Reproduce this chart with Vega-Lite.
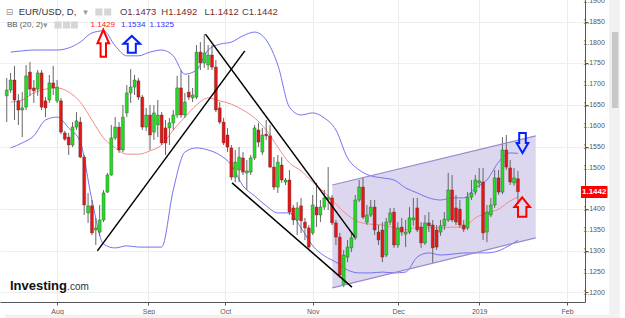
{
"$schema": "https://vega.github.io/schema/vega-lite/v6.json",
"width": 585, "height": 302, "padding": {"left": 0, "top": 0, "right": 40, "bottom": 16}, "autosize": {"type": "none"},
"background": "white",
"config": {"view": {"stroke": null}, "axis": {"labelOverlap": false, "labelBound": false}},
"datasets": {
"candles": [
{"i":-13,"o":1.1672,"h":1.1715,"l":1.1609,"c":1.1686},
{"i":-12,"o":1.1686,"h":1.1727,"l":1.1679,"c":1.1710},
{"i":-11,"o":1.1710,"h":1.1744,"l":1.1614,"c":1.1662},
{"i":-10,"o":1.1660,"h":1.1676,"l":1.1602,"c":1.1638},
{"i":-9,"o":1.1638,"h":1.1681,"l":1.1573,"c":1.1643},
{"i":-8,"o":1.1645,"h":1.1746,"l":1.1638,"c":1.1720},
{"i":-7,"o":1.1729,"h":1.1753,"l":1.1672,"c":1.1688},
{"i":-6,"o":1.1691,"h":1.1710,"l":1.1655,"c":1.1684},
{"i":-5,"o":1.1688,"h":1.1734,"l":1.1672,"c":1.1727},
{"i":-4,"o":1.1727,"h":1.1734,"l":1.1638,"c":1.1645},
{"i":-3,"o":1.1660,"h":1.1669,"l":1.1621,"c":1.1643},
{"i":-2,"o":1.1662,"h":1.1722,"l":1.1655,"c":1.1703},
{"i":-1,"o":1.1703,"h":1.1744,"l":1.1674,"c":1.1691},
{"i":0,"o":1.1660,"h":1.1710,"l":1.1655,"c":1.1693},
{"i":1,"o":1.1660,"h":1.1667,"l":1.1580,"c":1.1585},
{"i":2,"o":1.1583,"h":1.1588,"l":1.1564,"c":1.1568},
{"i":3,"o":1.1573,"h":1.1583,"l":1.1530,"c":1.1554},
{"i":4,"o":1.1554,"h":1.1609,"l":1.1549,"c":1.1597},
{"i":5,"o":1.1597,"h":1.1633,"l":1.1590,"c":1.1612},
{"i":6,"o":1.1609,"h":1.1621,"l":1.1523,"c":1.1525},
{"i":7,"o":1.1525,"h":1.1530,"l":1.1386,"c":1.1410},
{"i":8,"o":1.1391,"h":1.1439,"l":1.1367,"c":1.1408},
{"i":9,"o":1.1408,"h":1.1422,"l":1.1338,"c":1.1343},
{"i":10,"o":1.1350,"h":1.1379,"l":1.1314,"c":1.1355},
{"i":11,"o":1.1345,"h":1.1410,"l":1.1336,"c":1.1374},
{"i":12,"o":1.1374,"h":1.1446,"l":1.1369,"c":1.1439},
{"i":13,"o":1.1441,"h":1.1487,"l":1.1439,"c":1.1482},
{"i":14,"o":1.1482,"h":1.1602,"l":1.1480,"c":1.1571},
{"i":15,"o":1.1571,"h":1.1621,"l":1.1566,"c":1.1597},
{"i":16,"o":1.1597,"h":1.1609,"l":1.1535,"c":1.1542},
{"i":17,"o":1.1542,"h":1.1650,"l":1.1537,"c":1.1621},
{"i":18,"o":1.1631,"h":1.1698,"l":1.1621,"c":1.1679},
{"i":19,"o":1.1679,"h":1.1736,"l":1.1655,"c":1.1693},
{"i":20,"o":1.1693,"h":1.1722,"l":1.1674,"c":1.1710},
{"i":21,"o":1.1708,"h":1.1715,"l":1.1662,"c":1.1669},
{"i":22,"o":1.1669,"h":1.1674,"l":1.1590,"c":1.1597},
{"i":23,"o":1.1597,"h":1.1643,"l":1.1588,"c":1.1626},
{"i":24,"o":1.1626,"h":1.1650,"l":1.1542,"c":1.1578},
{"i":25,"o":1.1585,"h":1.1650,"l":1.1566,"c":1.1631},
{"i":26,"o":1.1602,"h":1.1662,"l":1.1573,"c":1.1626},
{"i":27,"o":1.1626,"h":1.1633,"l":1.1554,"c":1.1559},
{"i":28,"o":1.1595,"h":1.1614,"l":1.1530,"c":1.1559},
{"i":29,"o":1.1595,"h":1.1619,"l":1.1554,"c":1.1607},
{"i":30,"o":1.1607,"h":1.1638,"l":1.1590,"c":1.1626},
{"i":31,"o":1.1626,"h":1.1720,"l":1.1619,"c":1.1691},
{"i":32,"o":1.1691,"h":1.1734,"l":1.1619,"c":1.1626},
{"i":33,"o":1.1626,"h":1.1679,"l":1.1619,"c":1.1657},
{"i":34,"o":1.1681,"h":1.1722,"l":1.1662,"c":1.1669},
{"i":35,"o":1.1667,"h":1.1691,"l":1.1657,"c":1.1674},
{"i":36,"o":1.1669,"h":1.1794,"l":1.1664,"c":1.1777},
{"i":37,"o":1.1777,"h":1.1801,"l":1.1734,"c":1.1751},
{"i":38,"o":1.1751,"h":1.1820,"l":1.1739,"c":1.1775},
{"i":39,"o":1.1746,"h":1.1794,"l":1.1734,"c":1.1770},
{"i":40,"o":1.1770,"h":1.1794,"l":1.1734,"c":1.1741},
{"i":41,"o":1.1741,"h":1.1758,"l":1.1633,"c":1.1638},
{"i":42,"o":1.1643,"h":1.1657,"l":1.1604,"c":1.1609},
{"i":43,"o":1.1609,"h":1.1619,"l":1.1554,"c":1.1559},
{"i":44,"o":1.1578,"h":1.1595,"l":1.1537,"c":1.1549},
{"i":45,"o":1.1547,"h":1.1554,"l":1.1470,"c":1.1477},
{"i":46,"o":1.1477,"h":1.1542,"l":1.1465,"c":1.1513},
{"i":47,"o":1.1494,"h":1.1549,"l":1.1465,"c":1.1525},
{"i":48,"o":1.1523,"h":1.1537,"l":1.1482,"c":1.1489},
{"i":49,"o":1.1487,"h":1.1518,"l":1.1446,"c":1.1492},
{"i":50,"o":1.1489,"h":1.1530,"l":1.1482,"c":1.1523},
{"i":51,"o":1.1523,"h":1.1602,"l":1.1518,"c":1.1595},
{"i":52,"o":1.1590,"h":1.1607,"l":1.1549,"c":1.1561},
{"i":53,"o":1.1537,"h":1.1595,"l":1.1530,"c":1.1578},
{"i":54,"o":1.1580,"h":1.1614,"l":1.1566,"c":1.1576},
{"i":55,"o":1.1576,"h":1.1602,"l":1.1499,"c":1.1501},
{"i":56,"o":1.1501,"h":1.1525,"l":1.1446,"c":1.1453},
{"i":57,"o":1.1453,"h":1.1530,"l":1.1439,"c":1.1513},
{"i":58,"o":1.1506,"h":1.1525,"l":1.1463,"c":1.1470},
{"i":59,"o":1.1465,"h":1.1475,"l":1.1458,"c":1.1470},
{"i":60,"o":1.1470,"h":1.1494,"l":1.1386,"c":1.1393},
{"i":61,"o":1.1403,"h":1.1410,"l":1.1362,"c":1.1374},
{"i":62,"o":1.1374,"h":1.1417,"l":1.1338,"c":1.1403},
{"i":63,"o":1.1408,"h":1.1427,"l":1.1343,"c":1.1372},
{"i":64,"o":1.1369,"h":1.1379,"l":1.1326,"c":1.1355},
{"i":65,"o":1.1355,"h":1.1362,"l":1.1302,"c":1.1309},
{"i":66,"o":1.1343,"h":1.1434,"l":1.1338,"c":1.1410},
{"i":67,"o":1.1405,"h":1.1463,"l":1.1357,"c":1.1386},
{"i":68,"o":1.1386,"h":1.1422,"l":1.1369,"c":1.1405},
{"i":69,"o":1.1405,"h":1.1446,"l":1.1398,"c":1.1427},
{"i":70,"o":1.1422,"h":1.1501,"l":1.1398,"c":1.1429},
{"i":71,"o":1.1427,"h":1.1434,"l":1.1362,"c":1.1367},
{"i":72,"o":1.1367,"h":1.1374,"l":1.1314,"c":1.1333},
{"i":73,"o":1.1333,"h":1.1343,"l":1.1235,"c":1.1242},
{"i":74,"o":1.1218,"h":1.1302,"l":1.1213,"c":1.1290},
{"i":75,"o":1.1285,"h":1.1326,"l":1.1273,"c":1.1309},
{"i":76,"o":1.1307,"h":1.1343,"l":1.1297,"c":1.1331},
{"i":77,"o":1.1331,"h":1.1434,"l":1.1326,"c":1.1422},
{"i":78,"o":1.1422,"h":1.1470,"l":1.1417,"c":1.1453},
{"i":79,"o":1.1453,"h":1.1477,"l":1.1376,"c":1.1381},
{"i":80,"o":1.1369,"h":1.1410,"l":1.1362,"c":1.1386},
{"i":81,"o":1.1386,"h":1.1422,"l":1.1381,"c":1.1405},
{"i":82,"o":1.1405,"h":1.1422,"l":1.1338,"c":1.1350},
{"i":83,"o":1.1345,"h":1.1362,"l":1.1314,"c":1.1326},
{"i":84,"o":1.1350,"h":1.1369,"l":1.1273,"c":1.1285},
{"i":85,"o":1.1290,"h":1.1379,"l":1.1285,"c":1.1369},
{"i":86,"o":1.1369,"h":1.1403,"l":1.1362,"c":1.1391},
{"i":87,"o":1.1393,"h":1.1403,"l":1.1307,"c":1.1314},
{"i":88,"o":1.1314,"h":1.1369,"l":1.1307,"c":1.1355},
{"i":89,"o":1.1357,"h":1.1379,"l":1.1336,"c":1.1345},
{"i":90,"o":1.1340,"h":1.1374,"l":1.1309,"c":1.1345},
{"i":91,"o":1.1345,"h":1.1405,"l":1.1340,"c":1.1379},
{"i":92,"o":1.1374,"h":1.1427,"l":1.1360,"c":1.1379},
{"i":93,"o":1.1403,"h":1.1427,"l":1.1345,"c":1.1350},
{"i":94,"o":1.1357,"h":1.1369,"l":1.1307,"c":1.1319},
{"i":95,"o":1.1319,"h":1.1386,"l":1.1314,"c":1.1367},
{"i":96,"o":1.1367,"h":1.1393,"l":1.1345,"c":1.1360},
{"i":97,"o":1.1362,"h":1.1374,"l":1.1271,"c":1.1307},
{"i":98,"o":1.1350,"h":1.1362,"l":1.1302,"c":1.1309},
{"i":99,"o":1.1345,"h":1.1374,"l":1.1336,"c":1.1360},
{"i":100,"o":1.1360,"h":1.1393,"l":1.1350,"c":1.1376},
{"i":101,"o":1.1374,"h":1.1487,"l":1.1369,"c":1.1446},
{"i":102,"o":1.1446,"h":1.1482,"l":1.1369,"c":1.1374},
{"i":103,"o":1.1403,"h":1.1434,"l":1.1362,"c":1.1369},
{"i":104,"o":1.1400,"h":1.1422,"l":1.1355,"c":1.1362},
{"i":105,"o":1.1362,"h":1.1374,"l":1.1345,"c":1.1352},
{"i":106,"o":1.1355,"h":1.1441,"l":1.1350,"c":1.1429},
{"i":107,"o":1.1429,"h":1.1470,"l":1.1422,"c":1.1439},
{"i":108,"o":1.1441,"h":1.1482,"l":1.1434,"c":1.1470},
{"i":109,"o":1.1463,"h":1.1499,"l":1.1451,"c":1.1468},
{"i":110,"o":1.1465,"h":1.1499,"l":1.1326,"c":1.1343},
{"i":111,"o":1.1345,"h":1.1410,"l":1.1321,"c":1.1393},
{"i":112,"o":1.1386,"h":1.1427,"l":1.1381,"c":1.1410},
{"i":113,"o":1.1410,"h":1.1494,"l":1.1403,"c":1.1475},
{"i":114,"o":1.1475,"h":1.1494,"l":1.1434,"c":1.1441},
{"i":115,"o":1.1441,"h":1.1573,"l":1.1436,"c":1.1542},
{"i":116,"o":1.1542,"h":1.1578,"l":1.1494,"c":1.1501},
{"i":117,"o":1.1499,"h":1.1518,"l":1.1458,"c":1.1465},
{"i":118,"o":1.1463,"h":1.1499,"l":1.1456,"c":1.1475},
{"i":119,"o":1.1473,"h":1.1492,"l":1.1412,"c":1.1442}
],
"bands": [
{"i":-12,"u":1.1777,"m":1.1657,"d":1.1547},
{"i":-9,"u":1.1780,"m":1.1662,"d":1.1559},
{"i":-6,"u":1.1782,"m":1.1679,"d":1.1576},
{"i":-3,"u":1.1782,"m":1.1688,"d":1.1614},
{"i":0,"u":1.1782,"m":1.1691,"d":1.1621},
{"i":3,"u":1.1787,"m":1.1681,"d":1.1595},
{"i":6,"u":1.1801,"m":1.1657,"d":1.1561},
{"i":9,"u":1.1823,"m":1.1614,"d":1.1422},
{"i":12,"u":1.1828,"m":1.1571,"d":1.1316},
{"i":15,"u":1.1792,"m":1.1547,"d":1.1307},
{"i":18,"u":1.1768,"m":1.1532,"d":1.1312},
{"i":21,"u":1.1768,"m":1.1532,"d":1.1309},
{"i":24,"u":1.1777,"m":1.1540,"d":1.1309},
{"i":27,"u":1.1782,"m":1.1554,"d":1.1309},
{"i":30,"u":1.1768,"m":1.1590,"d":1.1446},
{"i":33,"u":1.1724,"m":1.1621,"d":1.1537},
{"i":36,"u":1.1734,"m":1.1650,"d":1.1547},
{"i":39,"u":1.1782,"m":1.1667,"d":1.1542},
{"i":42,"u":1.1796,"m":1.1660,"d":1.1530},
{"i":45,"u":1.1801,"m":1.1652,"d":1.1506},
{"i":48,"u":1.1816,"m":1.1638,"d":1.1456},
{"i":51,"u":1.1825,"m":1.1619,"d":1.1432},
{"i":54,"u":1.1806,"m":1.1590,"d":1.1408},
{"i":57,"u":1.1746,"m":1.1549,"d":1.1391},
{"i":60,"u":1.1645,"m":1.1511,"d":1.1391},
{"i":63,"u":1.1626,"m":1.1492,"d":1.1355},
{"i":66,"u":1.1631,"m":1.1465,"d":1.1312},
{"i":69,"u":1.1619,"m":1.1441,"d":1.1288},
{"i":72,"u":1.1590,"m":1.1412,"d":1.1273},
{"i":75,"u":1.1523,"m":1.1386,"d":1.1254},
{"i":78,"u":1.1494,"m":1.1369,"d":1.1247},
{"i":81,"u":1.1480,"m":1.1364,"d":1.1247},
{"i":84,"u":1.1475,"m":1.1362,"d":1.1249},
{"i":87,"u":1.1470,"m":1.1355,"d":1.1247},
{"i":90,"u":1.1451,"m":1.1350,"d":1.1249},
{"i":93,"u":1.1439,"m":1.1357,"d":1.1285},
{"i":96,"u":1.1427,"m":1.1355,"d":1.1295},
{"i":99,"u":1.1422,"m":1.1355,"d":1.1290},
{"i":102,"u":1.1427,"m":1.1357,"d":1.1292},
{"i":105,"u":1.1427,"m":1.1357,"d":1.1295},
{"i":108,"u":1.1451,"m":1.1379,"d":1.1295},
{"i":111,"u":1.1470,"m":1.1391,"d":1.1295},
{"i":114,"u":1.1513,"m":1.1400,"d":1.1300},
{"i":117,"u":1.1535,"m":1.1420,"d":1.1314},
{"i":119,"u":1.1534,"m":1.1429,"d":1.1325}
],
"yticks": [{"p":1.12},{"p":1.125},{"p":1.13},{"p":1.135},{"p":1.14},{"p":1.15},{"p":1.155},{"p":1.16},{"p":1.165},{"p":1.17},{"p":1.175},{"p":1.18},{"p":1.185},{"p":1.19}]
},
"layer": [
{
"data": {"values": [{"i":71.07,"lo":1.1211,"hi":1.1458},{"i":123.6,"lo":1.1331,"hi":1.1576}]},
"mark": {"type": "area", "color": "#dcd7ee", "opacity": 1},
"encoding": {
"x": {"field":"i","type":"quantitative","title":null,"scale":{"domain":[-13.45,135.03],"nice":false,"zero":false},
"axis":{"values":[0,23.6,43.4,66,88.07,109,131.7],"labelExpr":"datum.value < 10 ? 'Aug' : datum.value < 30 ? 'Sep' : datum.value < 50 ? 'Oct' : datum.value < 75 ? 'Nov' : datum.value < 100 ? 'Dec' : datum.value < 120 ? '2019' : 'Feb'","title":null,"grid":true,"gridColor":"#ebebeb","tickSize":3,"tickColor":"#555555","domainColor":"#555555","labelFont":"Liberation Sans","labelFontSize":7,"labelColor":"#555555","labelPadding":2,"labelFlush":false,"labelOverlap":false}},
"y": {"field":"lo","type":"quantitative","title":null,"scale":{"domain":[1.11772,1.1902],"nice":false,"zero":false},
"axis":{"orient":"right","values":[1.12,1.125,1.13,1.135,1.14,1.15,1.155,1.16,1.165,1.17,1.175,1.18,1.185,1.19],"labels":false,"title":null,"grid":true,"gridColor":"#eeeeee","tickSize":3,"tickColor":"#555555","domainColor":"#555555"}},
"y2": {"field":"hi"}
}
},
{
"data": {"name": "bands"},
"mark": {"type": "line", "color": "#7373f0", "strokeWidth": 1, "interpolate": "monotone"},
"encoding": {"x": {"field":"i","type":"quantitative","title":null}, "y": {"field":"u","type":"quantitative","title":null}}
},
{
"data": {"name": "bands"},
"mark": {"type": "line", "color": "#7373f0", "strokeWidth": 1, "interpolate": "monotone"},
"encoding": {"x": {"field":"i","type":"quantitative","title":null}, "y": {"field":"d","type":"quantitative","title":null}}
},
{
"data": {"name": "bands"},
"mark": {"type": "line", "color": "#f28c8c", "strokeWidth": 1, "interpolate": "monotone"},
"encoding": {"x": {"field":"i","type":"quantitative","title":null}, "y": {"field":"m","type":"quantitative","title":null}}
},
{
"data": {"name": "candles"},
"mark": {"type": "rule", "color": "#666666", "strokeWidth": 1},
"encoding": {"x": {"field":"i","type":"quantitative","title":null}, "y": {"field":"l","type":"quantitative","title":null}, "y2": {"field":"h"}}
},
{
"data": {"name": "candles"},
"mark": {"type": "bar", "size": 3, "stroke": "#333333", "strokeWidth": 0.5, "strokeOpacity": 0.7},
"encoding": {"x": {"field":"i","type":"quantitative","title":null}, "y": {"field":"o","type":"quantitative","title":null}, "y2": {"field":"c"},
"color": {"condition": {"test": "datum.c >= datum.o", "value": "#22dd22"}, "value": "#e81515"}}
},
{
"data": {"values": [{"e":"top","i":71.07,"p":1.1458},{"e":"top","i":123.6,"p":1.1576},{"e":"bot","i":71.07,"p":1.1211},{"e":"bot","i":123.6,"p":1.1331}]},
"mark": {"type": "line", "color": "#9a88cc", "strokeWidth": 1.2},
"encoding": {"x": {"field":"i","type":"quantitative","title":null}, "y": {"field":"p","type":"quantitative","title":null}, "detail": {"field":"e"}}
},
{
"data": {"values": [{"i1":10.41,"p1":1.1300,"i2":48.48,"p2":1.1780},{"i1":38.32,"p1":1.1820,"i2":76.9,"p2":1.1333},{"i1":45.18,"p1":1.1463,"i2":76.14,"p2":1.1213}]},
"mark": {"type": "rule", "color": "#000000", "strokeWidth": 1.5},
"encoding": {"x": {"field":"i1","type":"quantitative","title":null}, "y": {"field":"p1","type":"quantitative","title":null}, "x2": {"field":"i2"}, "y2": {"field":"p2"}}
},
{
"mark": {"type": "rule", "color": "#e00000", "strokeWidth": 1, "strokeDash": [2, 2]},
"encoding": {"y": {"datum": 1.1442, "type":"quantitative", "title":null}}
},
{
"data": {"name": "yticks"},
"mark": {"type": "text", "font": "Liberation Sans", "fontSize": 7, "color": "#555555", "align": "left", "baseline": "middle"},
"encoding": {"x": {"datum": 135.9, "type":"quantitative", "title":null}, "y": {"field":"p","type":"quantitative","title":null}, "text": {"field":"p","type":"quantitative","format":".4f"}}
},
{
"data": {"values": [{"x1":135.28,"x2":142.13,"y1":1.14556,"y2":1.14268}]},
"mark": {"type": "rect", "color": "#ff0000"},
"encoding": {"x": {"field":"x1","type":"quantitative","title":null}, "x2": {"field":"x2"}, "y": {"field":"y1","type":"quantitative","title":null}, "y2": {"field":"y2"}}
},
{
"data": {"values": [{"i":138.7,"p":1.1442,"t":"1.1442"}]},
"mark": {"type": "text", "color": "#ffffff", "font": "Liberation Sans", "fontSize": 8, "fontWeight": "bold", "align": "center", "baseline": "middle"},
"encoding": {"x": {"field":"i","type":"quantitative","title":null}, "y": {"field":"p","type":"quantitative","title":null}, "text": {"field":"t"}}
},
{
"data": {"values": [{"i":11.93,"p":1.1798}]},
"mark": {"type": "point", "shape": "M -0.2 1 L 0.2 1 L 0.2 0 L 0.43 0 L 0 -1 L -0.43 0 L -0.2 0 Z", "size": 729, "filled": false, "stroke": "#ff0000", "strokeWidth": 2, "opacity": 1},
"encoding": {"x": {"field":"i","type":"quantitative","title":null}, "y": {"field":"p","type":"quantitative","title":null}}
},
{
"data": {"values": [{"i":19.29,"p":1.17957}]},
"mark": {"type": "point", "shape": "M -0.48 1 L 0.48 1 L 0.48 -0.05 L 1 -0.05 L 0 -1 L -1 -0.05 L -0.48 -0.05 Z", "size": 279, "filled": false, "stroke": "#0022ff", "strokeWidth": 2, "opacity": 1},
"encoding": {"x": {"field":"i","type":"quantitative","title":null}, "y": {"field":"p","type":"quantitative","title":null}}
},
{
"data": {"values": [{"i":120.18,"p":1.1559}]},
"mark": {"type": "point", "shape": "M -0.33 -1 L 0.33 -1 L 0.33 0 L 0.58 0 L 0 1 L -0.58 0 L -0.33 0 Z", "size": 400, "filled": false, "stroke": "#0022ff", "strokeWidth": 2, "opacity": 1},
"encoding": {"x": {"field":"i","type":"quantitative","title":null}, "y": {"field":"p","type":"quantitative","title":null}}
},
{
"data": {"values": [{"i":120.1,"p":1.1405}]},
"mark": {"type": "point", "shape": "M -0.43 1 L 0.43 1 L 0.43 0 L 0.8 0 L 0 -1 L -0.8 0 L -0.43 0 Z", "size": 380, "filled": false, "stroke": "#ff0000", "strokeWidth": 2, "opacity": 1},
"encoding": {"x": {"field":"i","type":"quantitative","title":null}, "y": {"field":"p","type":"quantitative","title":null}}
},
{
"data": {"values": [
{"i":-9.9,"p":1.18732,"t":"EUR/USD, D,","r":"title"},
{"i":16.24,"p":1.18732,"t":"O","r":"letter"},
{"i":18.13,"p":1.18732,"t":"1.1473","r":"value"},
{"i":26.9,"p":1.18732,"t":"H","r":"letter"},
{"i":28.68,"p":1.18732,"t":"1.1492","r":"value"},
{"i":38.07,"p":1.18732,"t":"L","r":"letter"},
{"i":39.42,"p":1.18732,"t":"1.1412","r":"value"},
{"i":47.72,"p":1.18732,"t":"C","r":"letter"},
{"i":49.49,"p":1.18732,"t":"1.1442","r":"value"}
]},
"mark": {"type": "text", "font": "Liberation Sans", "fontSize": 9.5, "align": "left", "baseline": "middle"},
"encoding": {"x": {"field":"i","type":"quantitative","title":null}, "y": {"field":"p","type":"quantitative","title":null}, "text": {"field":"t"},
"color": {"field":"r","type":"nominal","scale":{"domain":["title","letter","value","bb","bbred","bbblue"],"range":["#333333","#444444","#7a2e2e","#555555","#ff2020","#3030ff"]},"legend":null}}
},
{
"data": {"values": [
{"i":-12.94,"p":1.1842,"t":"BB (20, 2)","r":"bb"},
{"i":8.63,"p":1.1842,"t":"1.1429","r":"bbred"},
{"i":16.5,"p":1.1842,"t":"1.1534","r":"bbblue"},
{"i":23.86,"p":1.1842,"t":"1.1325","r":"bbblue"}
]},
"mark": {"type": "text", "font": "Liberation Sans", "fontSize": 8, "align": "left", "baseline": "middle"},
"encoding": {"x": {"field":"i","type":"quantitative","title":null}, "y": {"field":"p","type":"quantitative","title":null}, "text": {"field":"t"},
"color": {"field":"r","type":"nominal","scale":{"domain":["title","letter","value","bb","bbred","bbblue"],"range":["#333333","#444444","#7a2e2e","#555555","#ff2020","#3030ff"]},"legend":null}}
},
{
"data": {"values": [{"i":10.79,"p":1.18732},{"i":13.07,"p":1.18732},{"i":0.25,"p":1.1842},{"i":2.41,"p":1.1842},{"i":4.44,"p":1.1842}]},
"mark": {"type": "point", "shape": "square", "filled": true, "color": "#d6d6d6", "size": 50, "opacity": 1},
"encoding": {"x": {"field":"i","type":"quantitative","title":null}, "y": {"field":"p","type":"quantitative","title":null}}
},
{
"data": {"values": [{"i":7.36,"p":1.18732,"t":"▾"},{"i":-3.05,"p":1.1842,"t":"▾"},{"i":-12.31,"p":1.1874,"t":"⊟"}]},
"mark": {"type": "text", "font": "DejaVu Sans", "fontSize": 9, "color": "#999999", "align": "center", "baseline": "middle"},
"encoding": {"x": {"field":"i","type":"quantitative","title":null}, "y": {"field":"p","type":"quantitative","title":null}, "text": {"field":"t"}}
},
{
"data": {"values": [{"i":-12.18,"p":1.1206,"t":"Investing"}]},
"mark": {"type": "text", "font": "Liberation Sans", "fontSize": 13, "fontWeight": "bold", "color": "#111111", "align": "left", "baseline": "alphabetic"},
"encoding": {"x": {"field":"i","type":"quantitative","title":null}, "y": {"field":"p","type":"quantitative","title":null}, "text": {"field":"t"}}
},
{
"data": {"values": [{"i":2.6,"p":1.1206,"t":".com"}]},
"mark": {"type": "text", "font": "Liberation Sans", "fontSize": 10, "color": "#333333", "align": "left", "baseline": "alphabetic"},
"encoding": {"x": {"field":"i","type":"quantitative","title":null}, "y": {"field":"p","type":"quantitative","title":null}, "text": {"field":"t"}}
},
{
"data": {"values": [{"x1":142.51,"x2":145.3,"y1":1.1902,"y2":1.11472},{"x1":-13.45,"x2":145.3,"y1":1.11472,"y2":1.11388}]},
"mark": {"type": "rect", "color": "#f1f1f1"},
"encoding": {"x": {"field":"x1","type":"quantitative","title":null}, "x2": {"field":"x2"}, "y": {"field":"y1","type":"quantitative","title":null}, "y2": {"field":"y2"}}
},
{
"data": {"values": [{"x1":143.27,"x2":144.92,"y1":1.18252,"y2":1.16428}]},
"mark": {"type": "rect", "color": "#c8c8c8"},
"encoding": {"x": {"field":"x1","type":"quantitative","title":null}, "x2": {"field":"x2"}, "y": {"field":"y1","type":"quantitative","title":null}, "y2": {"field":"y2"}}
}
]
}
